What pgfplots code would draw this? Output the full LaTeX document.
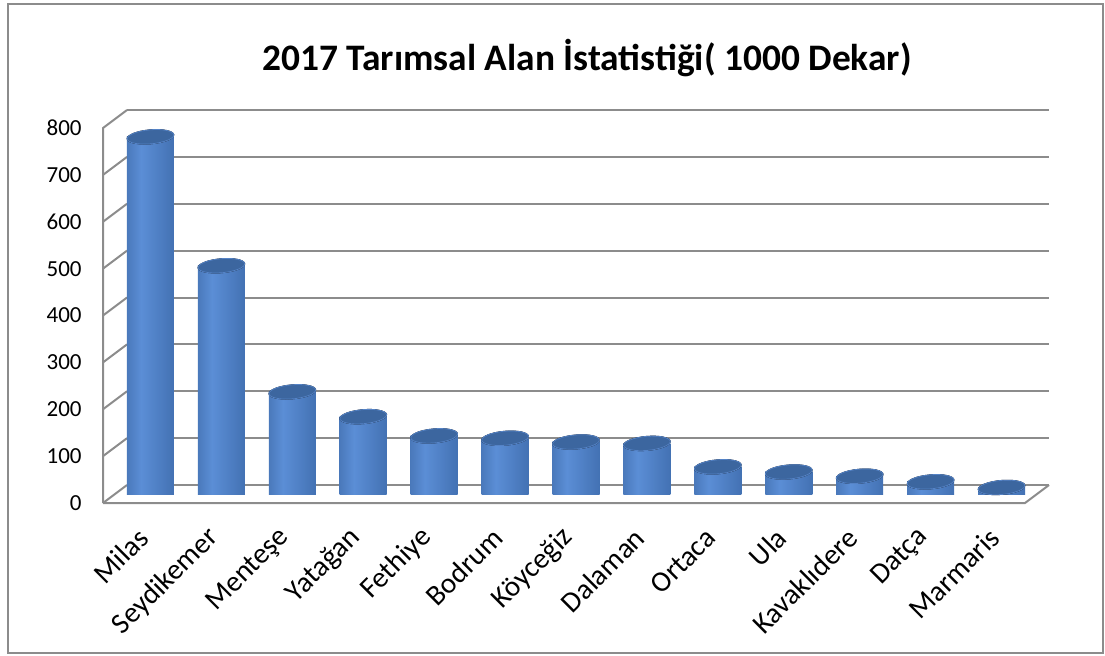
\documentclass[border=0pt]{standalone}
\usepackage{fontspec}
\setmainfont{Carlito}
\usepackage{pgfplots}
\pgfplotsset{compat=1.18}

\definecolor{cdark}{HTML}{2E568E}
\definecolor{clight}{HTML}{5B8ED6}
\definecolor{cdarkr}{HTML}{325D9A}
\definecolor{ctop}{HTML}{3C669F}
\definecolor{crim}{HTML}{5583C6}
\definecolor{cbase}{HTML}{4676BA}
\definecolor{wall}{HTML}{8C8C8C}
\pgfdeclarehorizontalshading{cyl}{100bp}{color(0bp)=(cdark); color(40bp)=(clight); color(100bp)=(cdarkr)}

\pgfplotstableread{
x  val
0  762
1  487
2  218
3  165
4  124
5  119
6  111
7  108
8  58
9  47
10 38
11 26
12 14
}\areas

% one cylinder body per category, so each gets its own shading
\newcommand\cyl[2]{%
  \addplot[ybar, bar shift=0pt, bar width=23.5pt, draw=none, shading=cyl] coordinates {(#1,#2)};}

\begin{document}
\begin{tikzpicture}
\begin{scope}[x=0.5pt, y=-0.5pt]
\path[use as bounding box] (0,0) rectangle (1105,655);
\draw[wall, line width=1pt] (8,4) rectangle (1103,653);
\node[font=\bfseries\fontsize{18.7}{22}\selectfont] at (587,58) {2017 Tarımsal Alan İstatistiği( 1000 Dekar)};
\end{scope}

% back wall grid
\begin{axis}[
    at={(63.5pt,-242.5pt)}, anchor=south west,
    scale only axis, width=461pt, height=187.5pt,
    xmin=-0.5, xmax=12.5, ymin=0, ymax=800,
    xtick=\empty, ytick={0,100,...,800}, yticklabels={},
    major tick length=0pt,
    axis line style={draw=none},
    ymajorgrids, grid style={wall, line width=1pt},
]
\end{axis}

% side wall and floor
\begin{scope}[x=0.5pt, y=-0.5pt]
\draw[wall, line width=1pt] (103,503) -- (103,128) -- (127,110);
\foreach \k in {0,...,7} {
    \draw[wall, line width=1pt] (103,{503-46.875*\k}) -- (127,{485-46.875*\k});
}
\draw[wall, line width=1pt] (103,503) -- (1025,503) -- (1049,485);
\end{scope}

% cylinders
\begin{axis}[
    at={(57.5pt,-247pt)}, anchor=south west,
    scale only axis, width=461pt, height=187.5pt,
    xmin=-0.5, xmax=12.5, ymin=0, ymax=800,
    hide axis, clip=false,
]
\addplot[only marks, mark=*, mark size=11.75pt,
    mark options={draw=none, fill=cbase, rotate=5, yscale=0.3}]
    table[x=x, y=val] {\areas};
\cyl{0}{762}
\cyl{1}{487}
\cyl{2}{218}
\cyl{3}{165}
\cyl{4}{124}
\cyl{5}{119}
\cyl{6}{111}
\cyl{7}{108}
\cyl{8}{58}
\cyl{9}{47}
\cyl{10}{38}
\cyl{11}{26}
\cyl{12}{14}
\addplot[only marks, mark=*, mark size=11.75pt,
    mark options={draw=crim, line width=0.4pt, fill=ctop, rotate=5, yscale=0.3}]
    table[x=x, y=val] {\areas};
\end{axis}

% front plane: tick labels
\begin{axis}[
    at={(51.5pt,-251.5pt)}, anchor=south west,
    scale only axis, width=461pt, height=187.5pt,
    xmin=-0.5, xmax=12.5, ymin=0, ymax=800,
    axis line style={draw=none}, major tick length=0pt,
    ytick={0,100,...,800},
    xtick={0,...,12},
    xticklabels={Milas,Seydikemer,Menteşe,Yatağan,Fethiye,Bodrum,Köyceğiz,Dalaman,Ortaca,Ula,Kavaklıdere,Datça,Marmaris},
    /pgf/number format/assume math mode=true,
    yticklabel style={font=\fontsize{11.5}{13}\selectfont, anchor=east, inner sep=0pt, xshift=-10.5pt},
    xticklabel style={font=\fontsize{14.5}{17}\selectfont, inner sep=0pt, xshift=2.5pt, yshift=-15pt, rotate=45, anchor=east},
]
\end{axis}
\end{tikzpicture}
\end{document}
